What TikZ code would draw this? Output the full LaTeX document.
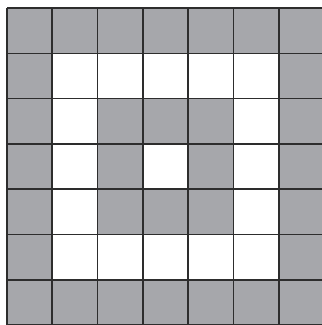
\documentclass[tikz,border=0pt]{standalone}
\definecolor{cellgray}{RGB}{166,167,171}
\definecolor{gridline}{RGB}{45,45,45}
\begin{document}
\begin{tikzpicture}[x=1pt,y=-1pt,
  gridstyle/.style={draw=gridline,line width=1.6pt}]
\useasboundingbox (0,0) rectangle (322,325);
\begin{scope}
\clip (0,0) rectangle (322,325);
\def\c{45.3}
\fill[cellgray] (7,8) rectangle ++(7*\c,7*\c);
\fill[white] (7+\c,8+\c) rectangle ++(5*\c,5*\c);
\fill[cellgray] (7+2*\c,8+2*\c) rectangle ++(3*\c,3*\c);
\fill[white] (7+3*\c,8+3*\c) rectangle ++(\c,\c);
\foreach \k in {0,...,7}{
  \draw[gridstyle] (7+\k*\c,8) -- (7+\k*\c,8+7*\c);
  \draw[gridstyle] (7,8+\k*\c) -- (7+7*\c,8+\k*\c);
}
\end{scope}
\end{tikzpicture}
\end{document}
